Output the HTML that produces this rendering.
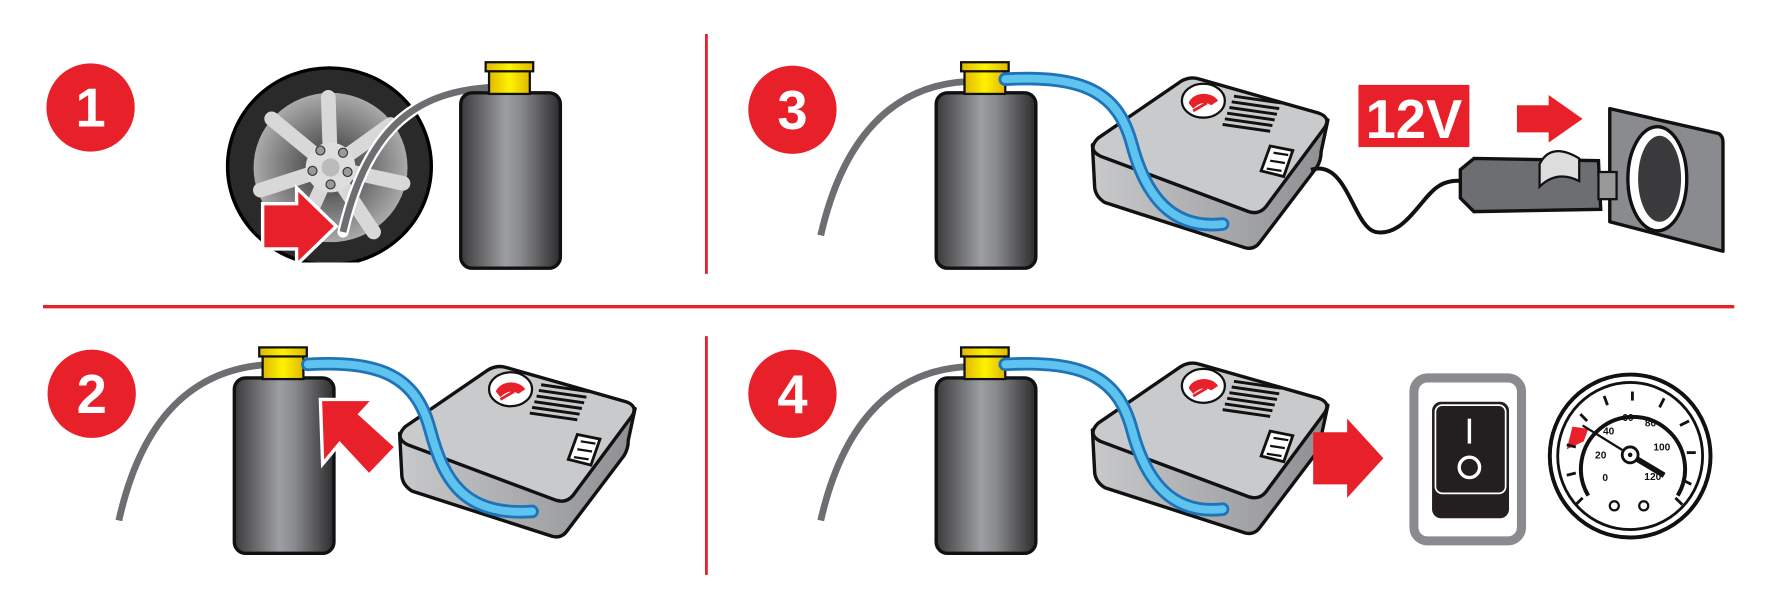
<!DOCTYPE html>
<html><head><meta charset="utf-8"><style>
html,body{margin:0;padding:0;background:#fff;width:1766px;height:602px;overflow:hidden}
svg{display:block}
text{font-family:"Liberation Sans",sans-serif;font-weight:bold}
</style></head><body>
<svg width="1766" height="602" viewBox="0 0 1560 532" preserveAspectRatio="none" xmlns="http://www.w3.org/2000/svg">
<defs>
<linearGradient id="bot" x1="0" x2="1" y1="0" y2="0">
<stop offset="0" stop-color="#3a3a3c"/><stop offset="0.45" stop-color="#9d9ea1"/><stop offset="0.6" stop-color="#8a8b8e"/><stop offset="1" stop-color="#2c2c2e"/>
</linearGradient>
<linearGradient id="cap" x1="0" x2="1"><stop offset="0" stop-color="#e0b800"/><stop offset="0.5" stop-color="#fff200"/><stop offset="1" stop-color="#e0b800"/></linearGradient>
<radialGradient id="rim" cx="0.5" cy="0.5" r="0.5"><stop offset="0.3" stop-color="#555"/><stop offset="1" stop-color="#aaa"/></radialGradient>
<linearGradient id="side" x1="0" x2="1"><stop offset="0" stop-color="#c8c9cb"/><stop offset="1" stop-color="#8e8f92"/></linearGradient>
<clipPath id="tclip"><rect x="150" y="40" width="300" height="192"/></clipPath>
<g id="bottle">
<rect x="0" y="27" width="88" height="155" rx="10" fill="url(#bot)" stroke="#111" stroke-width="3"/>
<rect x="25" y="5" width="36" height="23" fill="url(#cap)" stroke="#111" stroke-width="2"/>
<rect x="22" y="0" width="42" height="8" fill="url(#cap)" stroke="#111" stroke-width="2"/>
</g>
<g id="comp">
<path d="M965,380 L967,418 Q968,426 976,431 L1100,471 Q1108,473 1113,466 L1163,400 Q1167,394 1167,386 L1173,358 Z" fill="url(#side)" stroke="#111" stroke-width="3" stroke-linejoin="round"/>
<path d="M970,374 L1043,324 Q1051,319 1060,322 L1165,352 Q1176,356 1170,365 L1118,435 Q1112,442 1103,439 L972,390 Q960,384 970,374 Z" fill="#c9cacc" stroke="#111" stroke-width="3" stroke-linejoin="round"/>
<ellipse cx="1063" cy="341" rx="19" ry="15" fill="#fff" stroke="#111" stroke-width="2"/>
<path d="M1050,343 A14,11 0 0 1 1076,341 L1070,345 Q1062,340 1054,348Z" fill="#e8202a"/>
<path d="M1054,350 L1066,343" stroke="#e8202a" stroke-width="2.5"/>
<g stroke="#111" stroke-width="2.6">
<line x1="1090" y1="337" x2="1132" y2="343"/><line x1="1088" y1="342" x2="1130" y2="348"/><line x1="1086" y1="347" x2="1128" y2="353"/><line x1="1084" y1="352" x2="1126" y2="358"/><line x1="1082" y1="357" x2="1124" y2="363"/><line x1="1080" y1="362" x2="1122" y2="368"/>
</g>
<path d="M1122,381 L1142,385 L1134,408 L1114,403 Z" fill="#fff" stroke="#111" stroke-width="2.5"/>
<path d="M1125,387 L1138,389 M1122,394 L1135,396 M1119,401 L1132,403" stroke="#111" stroke-width="2"/>
</g>
<g id="bluehose4">
<path d="M888,322 C960,318 988,335 1000,380 S1035,455 1080,450" fill="none" stroke="#1f74b8" stroke-width="12" stroke-linecap="round"/>
<path d="M888,322 C960,318 988,335 1000,380 S1035,455 1080,450" fill="none" stroke="#5fc3f0" stroke-width="7" stroke-linecap="round"/>
</g>
</defs>

<line x1="38" y1="271" x2="1532" y2="271" stroke="#e8202a" stroke-width="3"/>
<line x1="624" y1="30" x2="624" y2="242" stroke="#e8202a" stroke-width="2.5"/>
<line x1="624" y1="297" x2="624" y2="508" stroke="#e8202a" stroke-width="2.5"/>

<g fill="#e8202a">
<circle cx="80" cy="95" r="39"/><circle cx="700" cy="97" r="39"/>
<circle cx="81" cy="348" r="39"/><circle cx="700" cy="348" r="39"/>
</g>
<g fill="#fff" font-size="48" text-anchor="middle">
<text x="80" y="112">1</text><text x="700" y="114">3</text>
<text x="81" y="365">2</text><text x="700" y="365">4</text>
</g>

<!-- STEP 1 -->
<g clip-path="url(#tclip)">
<ellipse cx="291" cy="147" rx="90" ry="87" fill="#2a2a2a" stroke="#000" stroke-width="3"/>
<ellipse cx="292" cy="148" rx="68" ry="66" fill="url(#rim)"/>
<g stroke="#d8d8d8" stroke-width="13" stroke-linecap="round">
<line x1="292" y1="148" x2="290" y2="86"/><line x1="292" y1="148" x2="345" y2="110"/><line x1="292" y1="148" x2="356" y2="162"/><line x1="292" y1="148" x2="330" y2="205"/><line x1="292" y1="148" x2="265" y2="208"/><line x1="292" y1="148" x2="230" y2="168"/><line x1="292" y1="148" x2="240" y2="105"/>
</g>
<circle cx="292" cy="148" r="22" fill="#ddd"/><circle cx="292" cy="148" r="8" fill="#bbb"/>
<g fill="#999" stroke="#333"><circle cx="283" cy="133" r="4"/><circle cx="303" cy="135" r="4"/><circle cx="307" cy="152" r="4"/><circle cx="292" cy="163" r="4"/><circle cx="276" cy="151" r="4"/></g>
</g>
<path d="M437,77 C370,80 325,110 303,205" fill="none" stroke="#fff" stroke-width="10" stroke-linecap="round"/>
<path d="M437,77 C370,80 325,110 303,205" fill="none" stroke="#6d6e71" stroke-width="6"/>
<path d="M232,180 L262,180 L262,166 L297,200 L262,234 L262,220 L232,220 Z" fill="#e8202a" stroke="#fff" stroke-width="3"/>
<use href="#bottle" x="407" y="55"/>

<!-- STEP 3 -->
<path d="M725,208 C745,120 790,75 855,72" fill="none" stroke="#6d6e71" stroke-width="6"/>
<use href="#bottle" x="827" y="55"/>
<use href="#comp" y="-252"/>
<use href="#bluehose4" y="-252"/>
<path d="M1158,150 C1190,140 1195,200 1215,205 C1240,210 1255,175 1270,165 C1280,158 1290,160 1298,160" fill="none" stroke="#111" stroke-width="3.5"/>
<rect x="1200" y="75" width="98" height="55" fill="#e8202a"/>
<text x="1249" y="122" fill="#fff" font-size="48" text-anchor="middle">12V</text>
<path d="M1340,93 L1368,93 L1368,84 L1398,105 L1368,126 L1368,117 L1340,117 Z" fill="#e8202a"/>
<path d="M1422,96 L1518,118 Q1522,120 1522,126 L1522,222 L1422,196 Z" fill="#8a8b8e" stroke="#111" stroke-width="3" stroke-linejoin="round"/>
<ellipse cx="1464" cy="158" rx="26" ry="46" fill="#fff" stroke="#111" stroke-width="3"/>
<ellipse cx="1466" cy="158" rx="19" ry="38" fill="#3a3a3c"/>
<path d="M1290,150 L1302,140 L1412,142 L1414,185 L1302,187 L1290,175 Z" fill="#6d6e71" stroke="#111" stroke-width="3"/>
<rect x="1412" y="152" width="16" height="24" fill="#999" stroke="#111" stroke-width="2"/>
<path d="M1360,145 Q1370,125 1395,140 L1395,160 Q1375,150 1360,165 Z" fill="#ddd" stroke="#111" stroke-width="2"/>

<!-- STEP 2 -->
<path d="M105,460 C125,370 170,325 240,322" fill="none" stroke="#6d6e71" stroke-width="6"/>
<use href="#bottle" x="207" y="307"/>
<use href="#comp" x="-612" y="3"/>
<path d="M272,322 C340,318 368,335 380,380 S410,456 470,452" fill="none" stroke="#1f74b8" stroke-width="12" stroke-linecap="round"/>
<path d="M272,322 C340,318 368,335 380,380 S410,456 470,452" fill="none" stroke="#5fc3f0" stroke-width="7" stroke-linecap="round"/>
<path d="M283,353 L330,353 L318,366 L350,395 L326,420 L300,392 L285,410 Z" fill="#e8202a" stroke="#fff" stroke-width="3"/>

<!-- STEP 4 -->
<path d="M725,460 C745,372 790,327 855,324" fill="none" stroke="#6d6e71" stroke-width="6"/>
<use href="#bottle" x="827" y="307"/>
<use href="#comp"/>
<use href="#bluehose4"/>
<path d="M1160,382 L1190,382 L1190,370 L1222,405 L1190,440 L1190,428 L1160,428 Z" fill="#e8202a"/>
<rect x="1249" y="334" width="95" height="144" rx="12" fill="#fff" stroke="#8a8b8e" stroke-width="8"/>
<rect x="1265" y="355" width="68" height="103" rx="8" fill="#231f20"/>
<rect x="1268" y="358" width="62" height="78" rx="6" fill="none" stroke="#fff" stroke-width="1.5"/>
<line x1="1298" y1="370" x2="1298" y2="392" stroke="#fff" stroke-width="3"/>
<circle cx="1298" cy="413" r="9" fill="none" stroke="#fff" stroke-width="3"/>
<ellipse cx="1440" cy="403" rx="71" ry="72" fill="#fff" stroke="#111" stroke-width="3.5"/>
<ellipse cx="1440" cy="403" rx="64" ry="65" fill="none" stroke="#111" stroke-width="2.5"/>
<path d="M1403,379 L1389,377 L1384,397 L1399,390 Z" fill="#e8202a"/>
<path d="M1403,438 A46,46 0 1 1 1482,438" fill="none" stroke="#111" stroke-width="3.5"/>
<g stroke="#111" stroke-width="2.5">
<line x1="1398" y1="440" x2="1392" y2="446"/><line x1="1392" y1="418" x2="1384" y2="420"/><line x1="1392" y1="395" x2="1384" y2="393"/><line x1="1402" y1="372" x2="1396" y2="366"/><line x1="1420" y1="358" x2="1417" y2="350"/><line x1="1442" y1="354" x2="1442" y2="346"/><line x1="1466" y1="360" x2="1470" y2="352"/><line x1="1484" y1="376" x2="1492" y2="372"/><line x1="1490" y1="400" x2="1498" y2="400"/><line x1="1486" y1="424" x2="1494" y2="428"/><line x1="1480" y1="440" x2="1486" y2="446"/>
</g>
<g font-size="9" fill="#111" text-anchor="middle" style="font-weight:normal">
<text x="1418" y="425">0</text><text x="1414" y="405">20</text><text x="1421" y="384">40</text><text x="1438" y="372">60</text><text x="1458" y="377">80</text><text x="1468" y="398">100</text><text x="1460" y="424">120</text>
</g>
<line x1="1398" y1="376" x2="1440" y2="402" stroke="#111" stroke-width="2"/>
<line x1="1440" y1="402" x2="1470" y2="420" stroke="#111" stroke-width="5"/>
<circle cx="1440" cy="402" r="7" fill="#fff" stroke="#111" stroke-width="2.5"/>
<circle cx="1440" cy="402" r="2" fill="#111"/>
<circle cx="1426" cy="447" r="4" fill="none" stroke="#111" stroke-width="2"/>
<circle cx="1452" cy="447" r="4" fill="none" stroke="#111" stroke-width="2"/>
</svg>
</body></html>
